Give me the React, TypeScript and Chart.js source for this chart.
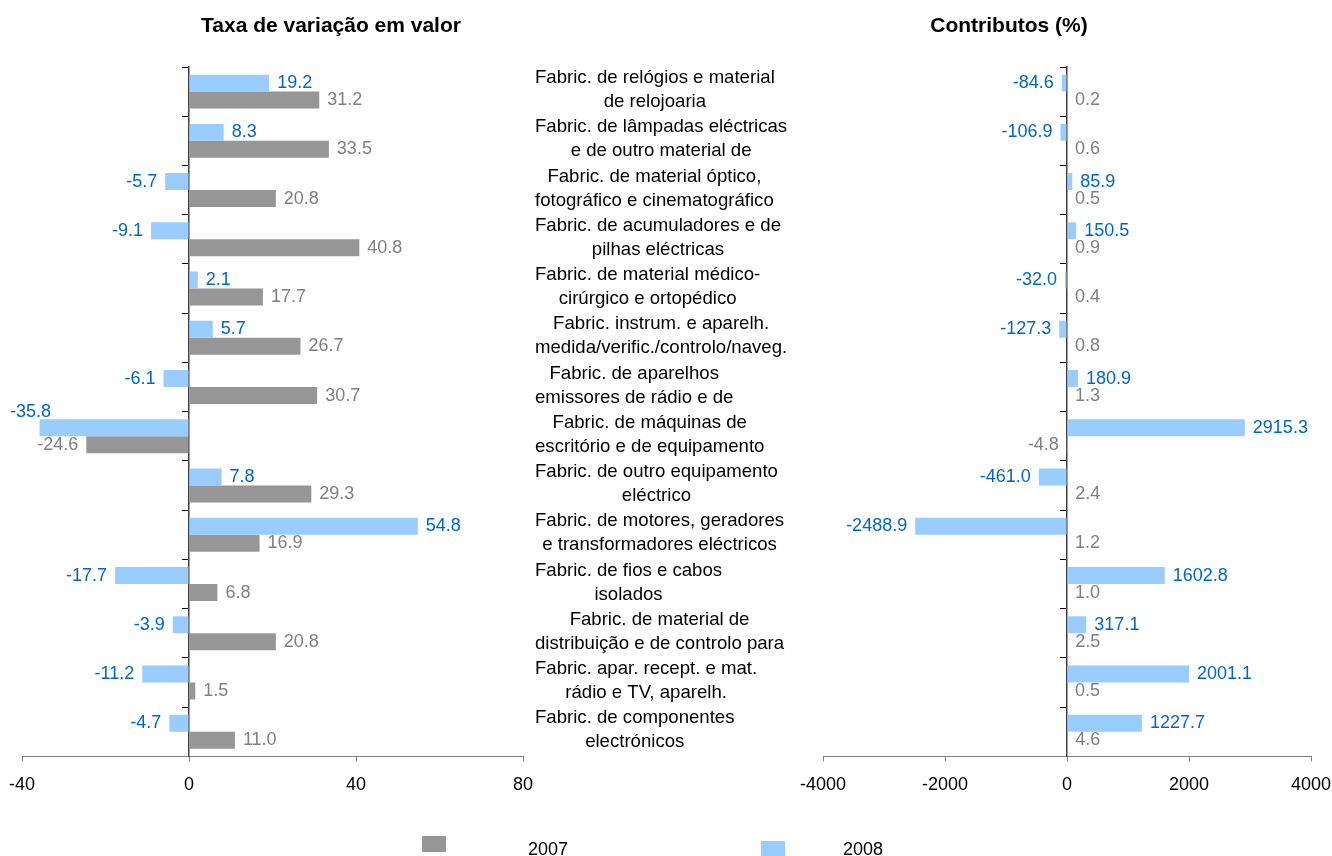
import React, { useEffect, useRef } from "react";
import { Chart, registerables } from "chart.js";

Chart.register(...registerables);

const FONT = "'Liberation Sans', Arial, Helvetica, sans-serif";

const categories: string[][] = [
  ["Fabric. de relógios e material", "de relojoaria"],
  ["Fabric. de lâmpadas eléctricas", "e de outro material de"],
  ["Fabric. de material óptico,", "fotográfico e cinematográfico"],
  ["Fabric. de acumuladores e de", "pilhas eléctricas"],
  ["Fabric. de material médico-", "cirúrgico e ortopédico"],
  ["Fabric. instrum. e aparelh.", "medida/verific./controlo/naveg."],
  ["Fabric. de aparelhos", "emissores de rádio e de"],
  ["Fabric. de máquinas de", "escritório e de equipamento"],
  ["Fabric. de outro equipamento", "eléctrico"],
  ["Fabric. de motores, geradores", "e transformadores eléctricos"],
  ["Fabric. de fios e cabos", "isolados"],
  ["Fabric. de material de", "distribuição e de controlo para"],
  ["Fabric. apar. recept. e mat.", "rádio e TV, aparelh."],
  ["Fabric. de componentes", "electrónicos"],
];

const taxa2007 = [31.2, 33.5, 20.8, 40.8, 17.7, 26.7, 30.7, -24.6, 29.3, 16.9, 6.8, 20.8, 1.5, 11.0];
const taxa2008 = [19.2, 8.3, -5.7, -9.1, 2.1, 5.7, -6.1, -35.8, 7.8, 54.8, -17.7, -3.9, -11.2, -4.7];

const contrib2007 = [0.2, 0.6, 0.5, 0.9, 0.4, 0.8, 1.3, -4.8, 2.4, 1.2, 1.0, 2.5, 0.5, 4.6];
const contrib2008 = [-84.6, -106.9, 85.9, 150.5, -32.0, -127.3, 180.9, 2915.3, -461.0, -2488.9, 1602.8, 317.1, 2001.1, 1227.7];

const taxaTicks = [-40, 0, 40, 80];
const contribTicks = [-4000, -2000, 0, 2000, 4000];

const seriesNames = ["2007", "2008"];
const titles = ["Taxa de variação em valor", "Contributos (%)"];

const GRAY = "#969696";
const BLUE = "#99CCFF";
const GRAY_TEXT = "#808080";
const BLUE_TEXT = "#0066CC";

const valueLabelPlugin = {
  id: "valueLabels",
  afterDatasetsDraw(chart: any) {
    const { ctx } = chart;
    ctx.save();
    ctx.font = `18px ${FONT}`;
    ctx.textBaseline = "middle";
    chart.data.datasets.forEach((ds: any, di: number) => {
      const meta = chart.getDatasetMeta(di);
      meta.data.forEach((el: any, i: number) => {
        const v = ds.data[i] as number;
        const txt = v.toFixed(1);
        const w = ctx.measureText(txt).width;
        let x: number;
        let y = el.y;
        ctx.fillStyle = ds.labelColor;
        if (v >= 0) {
          ctx.textAlign = "left";
          x = el.x + 8;
        } else {
          x = el.x - 8;
          if (x - w < 4) {
            ctx.textAlign = "left";
            x = chart.chartArea.left - 12;
            y = el.y - 16;
          } else {
            ctx.textAlign = "right";
          }
        }
        ctx.fillText(txt, x, y);
      });
    });
    ctx.restore();
  },
};

const categoryLabelPlugin = {
  id: "categoryLabels",
  afterDraw(chart: any) {
    const { ctx, chartArea, scales } = chart;
    const yScale = scales.y;
    ctx.save();
    ctx.font = `18.6px ${FONT}`;
    ctx.fillStyle = "#000";
    ctx.textAlign = "center";
    ctx.textBaseline = "middle";
    const x0 = chartArea.right + 12;
    categories.forEach((lines, i) => {
      const cy = yScale.getPixelForValue(i);
      const maxW = Math.max(...lines.map((l) => ctx.measureText(l).width));
      const cx = x0 + maxW / 2;
      lines.forEach((line, k) => {
        ctx.fillText(line, cx, cy - 1.5 + (k - (lines.length - 1) / 2) * 24);
      });
    });
    ctx.restore();
  },
};

function makeConfig(
  d2007: number[],
  d2008: number[],
  ticks: number[],
  padding: { left: number; right: number; top: number; bottom: number },
  withCategories: boolean
): any {
  return {
    type: "bar",
    data: {
      labels: categories.map((c) => c.join(" ")),
      datasets: [
        {
          label: seriesNames[1],
          data: d2008,
          backgroundColor: BLUE,
          borderWidth: 0,
          labelColor: BLUE_TEXT,
        },
        {
          label: seriesNames[0],
          data: d2007,
          backgroundColor: GRAY,
          borderWidth: 0,
          labelColor: GRAY_TEXT,
        },
      ],
    },
    options: {
      indexAxis: "y",
      responsive: true,
      maintainAspectRatio: false,
      animation: false,
      layout: { padding },
      datasets: { bar: { categoryPercentage: 0.69, barPercentage: 1 } },
      plugins: {
        legend: { display: false },
        tooltip: { enabled: false },
        title: { display: false },
      },
      scales: {
        x: {
          type: "linear",
          min: ticks[0],
          max: ticks[ticks.length - 1],
          afterFit: (s: any) => {
            s.paddingLeft = 0;
            s.paddingRight = 0;
          },
          ticks: {
            stepSize: ticks[1] - ticks[0],
            color: "#000",
            font: { family: FONT, size: 18 },
            padding: 13,
            maxRotation: 0,
            autoSkip: false,
            callback: (v: any) => String(v),
          },
          grid: { drawOnChartArea: false, tickLength: 5, color: "#808080" },
          border: { color: "#808080", width: 1 },
        },
        y: {
          type: "category",
          position: { x: 0 },
          offset: true,
          z: 1,
          ticks: { display: false },
          grid: { drawOnChartArea: false, tickLength: 6, color: "#000", offset: true },
          border: { color: "#404040", width: 1.5 },
        },
      },
    },
    plugins: withCategories ? [valueLabelPlugin, categoryLabelPlugin] : [valueLabelPlugin],
  };
}

function Panel(props: { left: number; width: number; config: () => any }) {
  const ref = useRef<HTMLCanvasElement | null>(null);
  useEffect(() => {
    if (!ref.current) return;
    const chart = new Chart(ref.current, props.config());
    return () => chart.destroy();
  }, []);
  return (
    <div style={{ position: "absolute", left: props.left, top: 0, width: props.width, height: 856 }}>
      <canvas ref={ref} />
    </div>
  );
}

export default function App() {
  const textBase: React.CSSProperties = { position: "absolute", fontFamily: FONT, color: "#000", whiteSpace: "nowrap" };
  return (
    <div style={{ position: "absolute", left: 0, top: 0, width: 1332, height: 856, background: "#fff", overflow: "hidden" }}>
      <Panel
        left={0}
        width={800}
        config={() => makeConfig(taxa2007, taxa2008, taxaTicks, { left: 22, right: 277, top: 67, bottom: 47 }, true)}
      />
      <Panel
        left={790}
        width={542}
        config={() => makeConfig(contrib2007, contrib2008, contribTicks, { left: 33, right: 21, top: 67, bottom: 47 }, false)}
      />
      <div style={{ ...textBase, left: 131, width: 400, top: 13, textAlign: "center", fontWeight: "bold", fontSize: 21, lineHeight: "24px" }}>
        {titles[0]}
      </div>
      <div style={{ ...textBase, left: 809, width: 400, top: 13, textAlign: "center", fontWeight: "bold", fontSize: 21, lineHeight: "24px" }}>
        {titles[1]}
      </div>
      <div style={{ position: "absolute", left: 422, top: 836, width: 24, height: 16, background: GRAY }} />
      <div style={{ ...textBase, left: 528, top: 839, fontSize: 18, lineHeight: "20px" }}>{seriesNames[0]}</div>
      <div style={{ position: "absolute", left: 761, top: 841, width: 24, height: 15, background: BLUE }} />
      <div style={{ ...textBase, left: 843, top: 839, fontSize: 18, lineHeight: "20px" }}>{seriesNames[1]}</div>
    </div>
  );
}
